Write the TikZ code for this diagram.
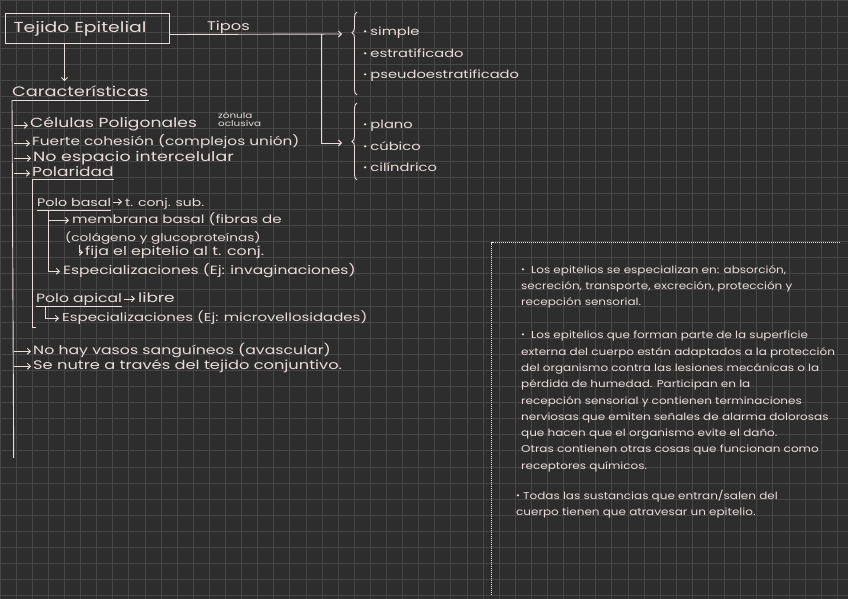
\documentclass[tikz,border=0pt]{standalone}
\usepackage{fontspec}
\setmainfont{Poppins}[FakeStretch=1.3]
\newfontfamily\notefont{Poppins}[FakeStretch=1.2]
\usetikzlibrary{arrows.meta,positioning,decorations.pathreplacing,calc}
\definecolor{board}{HTML}{2D2D2D}
\definecolor{gridline}{HTML}{464646}
\definecolor{chalk}{HTML}{E8DDDA}
\newcommand{\dotb}{\raisebox{1pt}{\fontsize{8}{8}\selectfont\textbullet}\hspace{3pt}}
\newcommand{\notedot}{\raisebox{1pt}{\fontsize{8}{8}\selectfont\textbullet}\hspace{6pt}}

\begin{document}
\begin{tikzpicture}[x=1pt,y=-1pt,
    every node/.style={inner sep=0pt, text=chalk},
    txt/.style={anchor=base west, font=\fontsize{#1}{14}\selectfont},
    txt/.default=12,
    tiny/.style={anchor=base west, font=\fontsize{8}{8}\selectfont},
    box/.style={draw=chalk, line width=1pt, anchor=north west, text width=148pt,
                inner xsep=8pt, minimum height=30pt, align=left,
                font=\fontsize{14.5}{16}\selectfont},
    arrow/.style={-{Straight Barb[length=3pt,width=6pt]}, line width=0.9pt, chalk},
    pen/.style={line width=0.9pt, chalk},
    curly/.style={decorate, decoration={brace, amplitude=5pt, aspect=#1},
                  line width=0.9pt, chalk},
    bullets/.style={anchor=north west, align=left, font=\fontsize{11.3}{21.5}\selectfont},
    note/.style={anchor=north west, align=left, font=\notefont\fontsize{10}{16.3}\selectfont}
  ]
  \useasboundingbox (0,0) rectangle (848,599);
  % cuadricula
  \fill[board] (0,0) rectangle (848,599);
  \foreach \i in {0,...,53}
    \draw[gridline, line width=0.8pt] (\i*16.1,0) -- (\i*16.1,599);
  \foreach \j in {0,...,37}
    \draw[gridline, line width=0.8pt] (0,\j*16.1) -- (848,\j*16.1);

  % titulo y tipos
  \node[box] (tejido) at (5,13) {Tejido Epitelial};
  \node[txt=12.5] (tipos) at (207,31) {Tipos};
  \coordinate (tipos-in) at (342,34);
  \coordinate (branch) at (321,34);
  \coordinate (forma-in) at (342,143);
  \draw[arrow] ([yshift=-6pt]tejido.east) -- (tipos-in);
  \draw[arrow] (branch) |- (forma-in);

  \draw[curly=0.75] (357,95) -- (357,12);
  \node[bullets] (tiposlist) at (363,27)
    {\dotb simple\\ \dotb estratificado\\ \dotb pseudoestratificado};
  \draw[curly=0.5] (357,180) -- (357,103);
  \node[bullets] (formalist) at (363,120)
    {\dotb plano\\ \dotb cúbico\\ \dotb cilíndrico};

  % caracteristicas
  \node[txt=13.7] (caract) at (12,97) {Características};
  \draw[arrow] ([xshift=-23pt]tejido.south) -- ($(tejido.south |- caract.north)+(-23,-5)$);
  \draw[pen] ([yshift=-3pt]caract.base west) -- ([yshift=-3pt]caract.base east);
  \coordinate (trunk-end) at (13.7,458);
  \draw[pen] ([yshift=-3pt]caract.base west) -- (trunk-end);

  \node[txt=13.2] (cel) at (30,128) {Células Poligonales};
  \node[tiny] (zonula) at (218,118) {zónula};
  \node[tiny] (oclusiva) at (218,127) {oclusiva};
  \node[txt=11.8] (fuerte) at (32,146) {Fuerte cohesión (complejos unión)};
  \node[txt=13.4] (noesp) at (33,161) {No espacio intercelular};
  \node[txt=13.1] (polar) at (32,176) {Polaridad};
  \node[txt=12.1] (novasos) at (33,354) {No hay vasos sanguíneos (avascular)};
  \node[txt=12.5] (nutre) at (33,369) {Se nutre a través del tejido conjuntivo.};
  \foreach \n in {cel,fuerte,noesp,polar,novasos,nutre}
    \draw[arrow] (trunk-end |- \n.mid west) -- ([xshift=-2pt]\n.mid west);

  % polaridad
  \coordinate (polar-end) at (32,327);
  \draw[pen] ([yshift=-3pt]polar.base east) -- ([yshift=-3pt]polar.base west)
    -- (polar-end) -- ++(4,0);

  \node[txt=11] (polobasal) at (37,206) {Polo basal};
  \node[txt=10.7] (tconj) at (125,206) {t. conj. sub.};
  \draw[pen] ([yshift=-4pt]polobasal.base west) -- ([yshift=-4pt]polobasal.base east);
  \draw[arrow, shorten <=2pt, shorten >=3pt] (polobasal.east) -- (polobasal.east -| tconj.west);

  \node[txt=11.6] (memb) at (72,223) {membrana basal (fibras de};
  \node[txt=10.5] (coll) at (65,241) {(colágeno y glucoproteínas)};
  \node[txt=12.2] (fija) at (85,255) {fija el epitelio al t. conj.};
  \node[txt=11.9] (espec1) at (63,274) {Especializaciones (Ej: invaginaciones)};
  \coordinate (sub-top) at (48,211);
  \coordinate (fija-hook) at (79,245);
  \draw[arrow] (sub-top) |- ([xshift=-3pt]memb.mid west);
  \draw[arrow] (sub-top) |- ([xshift=-3pt]espec1.mid west);
  \draw[arrow] (fija-hook) |- ([xshift=-2pt]fija.mid west);

  \node[txt=12] (poloapical) at (36,302) {Polo apical};
  \node[txt=13] (libre) at (138,302) {libre};
  \draw[pen] ([yshift=-4pt]poloapical.base west) -- ([yshift=-4pt]poloapical.base east);
  \draw[arrow, shorten <=2pt, shorten >=3pt] (poloapical.east) -- (poloapical.east -| libre.west);
  \node[txt=11.5] (espec2) at (62,321) {Especializaciones (Ej: microvellosidades)};
  \coordinate (apical-hook) at (45,307);
  \draw[arrow] (apical-hook) |- ([xshift=-3pt]espec2.mid west);

  % notas
  \draw[chalk!70, line width=1pt, dash pattern=on 1pt off 1pt]
    (491.7,595) -- (491.7,242.7) -- (840,242.7);
  \node[note] (note1) at (521,265)
    {\notedot Los epitelios se especializan en: absorción,\\
     secreción, transporte, excreción, protección y\\
     recepción sensorial.};
  \node[note] (note2) at (521,331)
    {\notedot Los epitelios que forman parte de la superficie\\
     externa del cuerpo están adaptados a la protección\\
     del organismo contra las lesiones mecánicas o la\\
     pérdida de humedad. Participan en la\\
     recepción sensorial y contienen terminaciones\\
     nerviosas que emiten señales de alarma dolorosas\\
     que hacen que el organismo evite el daño.\\
     Otras contienen otras cosas que funcionan como\\
     receptores químicos.};
  \node[note] (note3) at (516,490)
    {\dotb Todas las sustancias que entran/salen del\\
     cuerpo tienen que atravesar un epitelio.};
\end{tikzpicture}
\end{document}
